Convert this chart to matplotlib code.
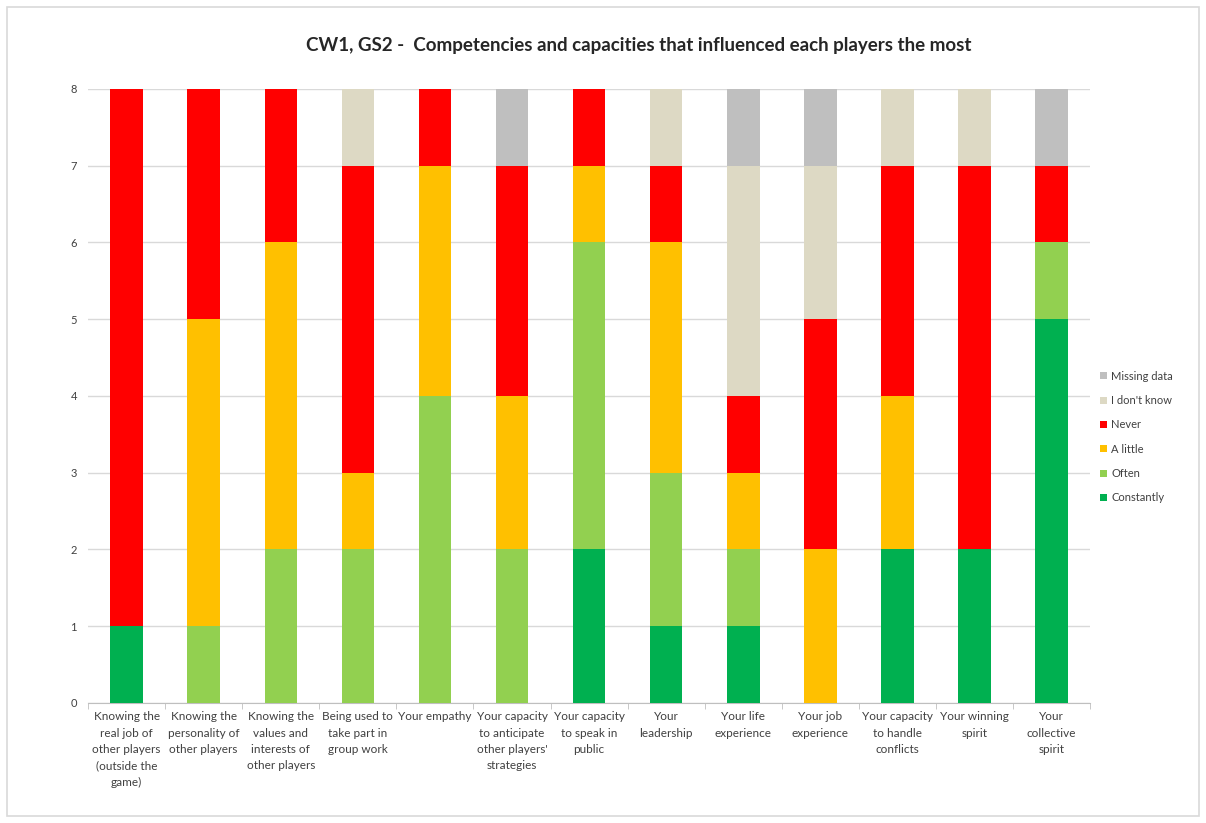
import numpy as np
import matplotlib
matplotlib.use("Agg")
import matplotlib.pyplot as plt
from matplotlib.patches import Rectangle

plt.rcParams['font.family'] = ['Lato', 'DejaVu Sans']

# Categories (x axis)
categories = [
    "Knowing the\nreal job of\nother players\n(outside the\ngame)",
    "Knowing the\npersonality of\nother players",
    "Knowing the\nvalues and\ninterests of\nother players",
    "Being used to\ntake part in\ngroup work",
    "Your empathy",
    "Your capacity\nto anticipate\nother players'\nstrategies",
    "Your capacity\nto speak in\npublic",
    "Your\nleadership",
    "Your life\nexperience",
    "Your job\nexperience",
    "Your capacity\nto handle\nconflicts",
    "Your winning\nspirit",
    "Your\ncollective\nspirit",
]

# Counts per answer, stacked bottom to top
constantly = [1, 0, 0, 0, 0, 0, 2, 1, 1, 0, 2, 2, 5]
often = [0, 1, 2, 2, 4, 2, 4, 2, 1, 0, 0, 0, 1]
a_little = [0, 4, 4, 1, 3, 2, 1, 3, 1, 2, 2, 0, 0]
never = [7, 3, 2, 4, 1, 3, 1, 1, 1, 3, 3, 5, 1]
dont_know = [0, 0, 0, 1, 0, 0, 0, 1, 3, 2, 1, 1, 0]
missing = [0, 0, 0, 0, 0, 1, 0, 0, 1, 1, 0, 0, 1]

series = [
    ("Constantly", constantly, "#00B050"),
    ("Often", often, "#92D050"),
    ("A little", a_little, "#FFC000"),
    ("Never", never, "#FF0000"),
    ("I don't know", dont_know, "#DDD9C4"),
    ("Missing data", missing, "#BFBFBF"),
]

fig = plt.figure(figsize=(12.06, 8.23), dpi=100)
fig.patches.append(Rectangle((0.006, 0.008), 0.988, 0.984, transform=fig.transFigure,
                             fill=False, edgecolor="#D9D9D9", linewidth=1.2))

ax = fig.add_axes([0.073, 0.146, 0.831, 0.746])
x = np.arange(len(categories))
bottom = np.zeros(len(categories))
handles = []
for name, vals, color in series:
    h = ax.bar(x, vals, 0.42, bottom=bottom, color=color, label=name, zorder=3)
    handles.append(h)
    bottom += np.array(vals)

ax.set_xlim(-0.5, len(categories) - 0.5)
ax.set_ylim(0, 8)
ax.set_yticks(range(0, 9))
ax.yaxis.grid(True, color="#D9D9D9", linewidth=1, zorder=0)
for s in ["top", "right", "left"]:
    ax.spines[s].set_visible(False)
ax.spines["bottom"].set_color("#BFBFBF")
ax.tick_params(axis="y", length=0, labelsize=8, colors="#404040", pad=8)

ax.set_xticks(x)
ax.set_xticklabels(categories, fontsize=8.5, color="#404040", linespacing=1.6)
ax.tick_params(axis="x", length=0, pad=6)
ax.set_xticks(np.arange(-0.5, len(categories), 1), minor=True)
ax.tick_params(axis="x", which="minor", length=4, color="#BFBFBF")

fig.text(0.53, 0.945, "CW1, GS2 -  Competencies and capacities that influenced each players the most",
         ha="center", va="center", fontsize=13.5, fontweight="bold", color="#262626")

leg = ax.legend(handles[::-1], [s[0] for s in series][::-1], loc="center left",
                bbox_to_anchor=(1.0, 0.433), frameon=False, fontsize=8,
                handlelength=0.6, handleheight=0.6, labelspacing=1.2, handletextpad=0.4)
for t in leg.get_texts():
    t.set_color("#404040")

fig.savefig("out.png", dpi=100)
